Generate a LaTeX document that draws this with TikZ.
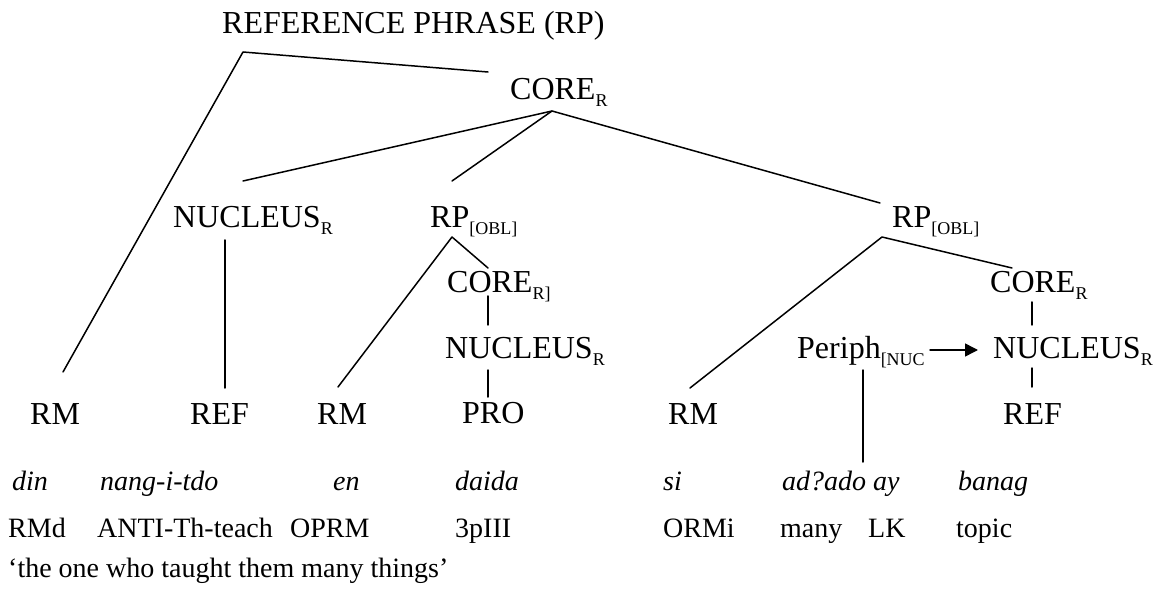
\documentclass[tikz,border=0pt]{standalone}
\usepackage{fontspec}
\setmainfont{Liberation Serif}
\usetikzlibrary{arrows.meta}
% small lowered subscript used on the category labels
\newcommand{\catsub}[1]{\raisebox{-7pt}{\fontsize{18}{18}\selectfont #1}}
\tikzset{
  treelbl/.style={inner sep=0pt, anchor=base west, font=\fontsize{32}{38}\selectfont},
  glosslbl/.style={inner sep=0pt, anchor=base west, font=\fontsize{28}{34}\selectfont},
  wordlbl/.style={inner sep=0pt, anchor=base west, font=\fontsize{28}{34}\selectfont\itshape},
  branch/.style={line width=1.5pt, line cap=round, line join=round},
}
\begin{document}
\begin{tikzpicture}[x=1pt, y=-1pt]
  \useasboundingbox (0,0) rectangle (1171,604);

  % category labels of the tree
  \node[treelbl] (rp)     at (222,34)  {REFERENCE PHRASE (RP)};
  \node[treelbl] (core)   at (510,100) {CORE\catsub{R}};
  \node[treelbl] (nucA)   at (173,228) {NUCLEUS\catsub{R}};
  \node[treelbl] (rpA)    at (430,228) {RP\catsub{[OBL]}};
  \node[treelbl] (rpB)    at (892,228) {RP\catsub{[OBL]}};
  \node[treelbl] (coreA)  at (447,293) {CORE\catsub{R]}};
  \node[treelbl] (coreB)  at (990,293) {CORE\catsub{R}};
  \node[treelbl] (nucB)   at (445,358) {NUCLEUS\catsub{R}};
  \node[treelbl] (periph) at (797,358) {Periph\catsub{[NUC}};
  \node[treelbl] (nucC)   at (993,358) {NUCLEUS\catsub{R}};
  \node[treelbl] (rm1)    at (30,424)  {RM};
  \node[treelbl] (ref1)   at (190,424) {REF};
  \node[treelbl] (rm2)    at (317,424) {RM};
  \node[treelbl] (pro)    at (462,423) {PRO};
  \node[treelbl] (rm3)    at (668,424) {RM};
  \node[treelbl] (ref2)   at (1003,424) {REF};

  % object-language words
  \node[wordlbl] (w1) at (12,490)  {din};
  \node[wordlbl] (w2) at (100,490) {nang-i-tdo};
  \node[wordlbl] (w3) at (333,490) {en};
  \node[wordlbl] (w4) at (455,490) {daida};
  \node[wordlbl] (w5) at (663,490) {si};
  \node[wordlbl] (w6) at (782,490) {ad?ado ay};
  \node[wordlbl] (w7) at (958,490) {banag};

  % glosses
  \node[glosslbl] (g1) at (8,537)   {RMd};
  \node[glosslbl] (g2) at (97,537)  {ANTI-Th-teach};
  \node[glosslbl] (g3) at (290,537) {OPRM};
  \node[glosslbl] (g4) at (455,537) {3pIII};
  \node[glosslbl] (g5) at (663,537) {ORMi};
  \node[glosslbl] (g6) at (780,537) {many};
  \node[glosslbl] (g7) at (868,537) {LK};
  \node[glosslbl] (g8) at (956,537) {topic};

  % free translation
  \node[glosslbl] (tr) at (8,577) {‘the one who taught them many things’};

  % branch end points
  \coordinate (rpApex)    at (243,52);
  \coordinate (coreIn)    at (488,72);
  \coordinate (rm1Top)    at (63,372);
  \coordinate (coreApex)  at (552,111);
  \coordinate (nucAIn)    at (243,181);
  \coordinate (rpAIn)     at (452,181);
  \coordinate (rpBIn)     at (880,203);
  \coordinate (nucAOut)   at (225,240);
  \coordinate (ref1Top)   at (225,388);
  \coordinate (rpAApex)   at (452,237);
  \coordinate (rm2Top)    at (338,387);
  \coordinate (coreAIn)   at (488,268);
  \coordinate (coreAOut)  at (488,296);
  \coordinate (nucBIn)    at (488,325);
  \coordinate (nucBOut)   at (488,370);
  \coordinate (proTop)    at (488,397);
  \coordinate (rpBApex)   at (882,237);
  \coordinate (rm3Top)    at (690,388);
  \coordinate (coreBIn)   at (1012,268);
  \coordinate (coreBOut)  at (1032,302);
  \coordinate (nucCIn)    at (1032,325);
  \coordinate (nucCOut)   at (1032,368);
  \coordinate (ref2Top)   at (1032,387);
  \coordinate (periphOut) at (863,370);
  \coordinate (periphEnd) at (863,462);
  \coordinate (arrowFrom) at (930,350);
  \coordinate (arrowTo)   at (978,350);

  % branches
  \draw[branch] (rm1Top) -- (rpApex) -- (coreIn);
  \draw[branch] (nucAIn) -- (coreApex) -- (rpBIn);
  \draw[branch] (coreApex) -- (rpAIn);
  \draw[branch] (nucAOut) -- (ref1Top);
  \draw[branch] (rm2Top) -- (rpAApex) -- (coreAIn);
  \draw[branch] (coreAOut) -- (nucBIn);
  \draw[branch] (nucBOut) -- (proTop);
  \draw[branch] (rm3Top) -- (rpBApex) -- (coreBIn);
  \draw[branch] (coreBOut) -- (nucCIn);
  \draw[branch] (nucCOut) -- (ref2Top);
  \draw[branch] (periphOut) -- (periphEnd);
  \draw[branch, -{Triangle[length=13pt, width=13pt]}] (arrowFrom) -- (arrowTo);
\end{tikzpicture}
\end{document}
